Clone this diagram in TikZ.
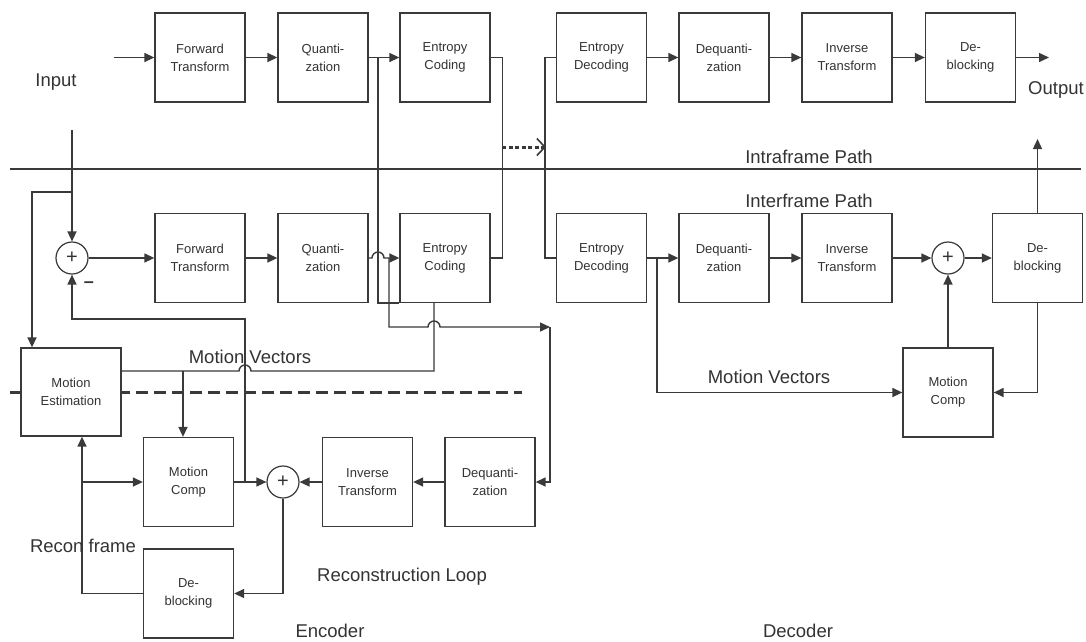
\documentclass[tikz,border=0pt]{standalone}
\usepackage{fontspec}
\setmainfont{Liberation Sans}
\usetikzlibrary{arrows.meta}
\definecolor{linec}{HTML}{3A3A3A}
\definecolor{txtc}{HTML}{333333}

\begin{document}
\begin{tikzpicture}[x=1pt, y=-1pt,
    blk/.style={draw=linec, line width=1.3pt, fill=white, minimum width=90pt,
        minimum height=89pt, inner sep=0pt, align=center, text=txtc,
        font=\fontsize{13}{18}\selectfont},
    adder/.style={draw=linec, line width=1.2pt, fill=white, circle,
        minimum size=32pt, inner sep=0pt, text=txtc,
        font=\fontsize{20}{20}\selectfont},
    lbl/.style={text=txtc, font=\fontsize{18.5}{20}\selectfont},
    wire/.style={draw=linec, line width=1.4pt},
    arr/.style={wire, -{Triangle[length=10pt, width=9pt]}},
]
    \useasboundingbox[fill=white] (0,0) rectangle (1086,641);
    % path separators
    \draw[linec, line width=1.4pt] (10,169) -- (1081,169);
    \draw[linec, line width=3pt, dash pattern=on 12pt off 6pt] (10,392) -- (522,392);
    % intraframe path
    \node[blk] (ft1) at (200,57.5) {Forward\\Transform};
    \node[blk] (q1) at (323,57.5) {Quanti-\\zation};
    \node[blk] (ec1) at (445,57.5) {Entropy\\Coding};
    \node[blk] (ed1) at (601.5,57.5) {Entropy\\Decoding};
    \node[blk] (dq1) at (724,57.5) {Dequanti-\\zation};
    \node[blk] (it1) at (847,57.5) {Inverse\\Transform};
    \node[blk] (db1) at (970.5,57.5) {De-\\blocking};
    % interframe path, encoder
    \node[adder] (s1) at (72,258) {+};
    \node[blk] (ft2) at (200,258) {Forward\\Transform};
    \node[blk] (q2) at (323,258) {Quanti-\\zation};
    \node[blk] (ec2) at (445,258) {Entropy\\Coding};
    \node[blk, minimum width=100pt, minimum height=88pt] (me) at (71,392) {Motion\\Estimation};
    \node[blk] (mce) at (188.5,482) {Motion\\Comp};
    \node[adder] (se) at (283,482) {+};
    \node[blk] (ite) at (367.5,482) {Inverse\\Transform};
    \node[blk] (dqe) at (490,482) {Dequanti-\\zation};
    \node[blk] (dbe) at (188.5,593.5) {De-\\blocking};
    % interframe path, decoder
    \node[blk] (ed2) at (601.5,258) {Entropy\\Decoding};
    \node[blk] (dq2) at (724,258) {Dequanti-\\zation};
    \node[blk] (it2) at (847,258) {Inverse\\Transform};
    \node[adder] (sd) at (948,258) {+};
    \node[blk] (db2) at (1037.5,258) {De-\\blocking};
    \node[blk] (mcd) at (948,392.5) {Motion\\Comp};
    % free ends and taps
    \coordinate (ina) at (114,57.5);
    \coordinate (outa) at (1049,57.5);
    \coordinate (qtop) at (378,57.5);
    \coordinate (da) at (502,147);
    \coordinate (dd) at (546,147);
    \coordinate (inv) at (72,130);
    \coordinate (inb) at (72,192);
    \coordinate (qtap) at (389,258);
    \coordinate (rcorner) at (550,327);
    \coordinate (mvb) at (183,371);
    \coordinate (fb) at (245,482);
    \coordinate (rf) at (82,482);
    \coordinate (mvd) at (657,258);
    \coordinate (outb) at (1037.5,139);
    % intraframe connectors
    \draw[arr] (ina) -- (ft1.west);
    \draw[arr] (ft1.east) -- (q1.west);
    \draw[arr] (q1.east) -- (ec1.west);
    \draw[arr] (ed1.east) -- (dq1.west);
    \draw[arr] (dq1.east) -- (it1.west);
    \draw[arr] (it1.east) -- (db1.west);
    \draw[arr] (db1.east) -- (outa);
    \draw[wire] (qtop) |- (ec2.south west);
    \draw[wire] (ec1.east) -- ++(12,0) |- (ec2.east);
    \draw[wire] (ed1.west) -- ++(-11,0) |- (ed2.west);
    \draw[linec, line width=3pt, dash pattern=on 4pt off 2.5pt,
        -{Straight Barb[length=8pt, width=17pt, line width=1.6pt]}] (da) -- (dd);
    % encoder connectors
    \draw[arr] (inv) -- (s1.north);
    \draw[arr] (inb) -| ([xshift=-39pt]me.north);
    \draw[arr] (s1.east) -- (ft2.west);
    \draw[arr] (ft2.east) -- (q2.west);
    \draw[arr] (q2.east) -- (372,258) arc[start angle=180, end angle=360, radius=6] -- (ec2.west);
    \draw[arr] (qtap) |- (428,327) arc[start angle=180, end angle=360, radius=6] -- (rcorner);
    \draw[arr] (rcorner) |- (dqe.east);
    \draw[arr] (dqe.west) -- (ite.east);
    \draw[arr] (ite.west) -- (se.east);
    \draw[arr] (mce.east) -- (se.west);
    \draw[arr] (se.south) |- (dbe.east);
    \draw[arr] (dbe.west) -| ([xshift=11pt]me.south);
    \draw[arr] (rf) -- (mce.west);
    \draw[arr] (fb) -- ++(0,-163) -| (s1.south);
    \draw[wire] ([xshift=-11pt]ec2.south) |- (251,371)
        arc[start angle=0, end angle=-180, radius=6] -- ([yshift=21pt]me.east);
    \draw[arr] (mvb) -- (mvb |- mce.north);
    % decoder connectors
    \draw[arr] (ed2.east) -- (dq2.west);
    \draw[arr] (dq2.east) -- (it2.west);
    \draw[arr] (it2.east) -- (sd.west);
    \draw[arr] (sd.east) -- (db2.west);
    \draw[arr] (db2.north) -- (outb);
    \draw[arr] (db2.south) |- (mcd.east);
    \draw[arr] (mcd.north) -- (sd.south);
    \draw[arr] (mvd) |- (mcd.west);
    % labels
    \node[text=txtc, font=\fontsize{18}{18}\selectfont\bfseries] (minus) at (89,285) {–};
    \node[lbl] (linput) at (56,82) {Input};
    \node[lbl] (loutput) at (1056,90) {Output};
    \node[lbl] (lintra) at (809,157) {Intraframe Path};
    \node[lbl] (linter) at (809,201) {Interframe Path};
    \node[lbl] (lmve) at (250,357) {Motion Vectors};
    \node[lbl] (lmvd) at (769,377) {Motion Vectors};
    \node[lbl] (lrecon) at (83,546) {Recon frame};
    \node[lbl] (lloop) at (402,577) {Reconstruction Loop};
    \node[lbl] (lenc) at (330,631) {Encoder};
    \node[lbl] (ldec) at (798,631) {Decoder};
\end{tikzpicture}
\end{document}
